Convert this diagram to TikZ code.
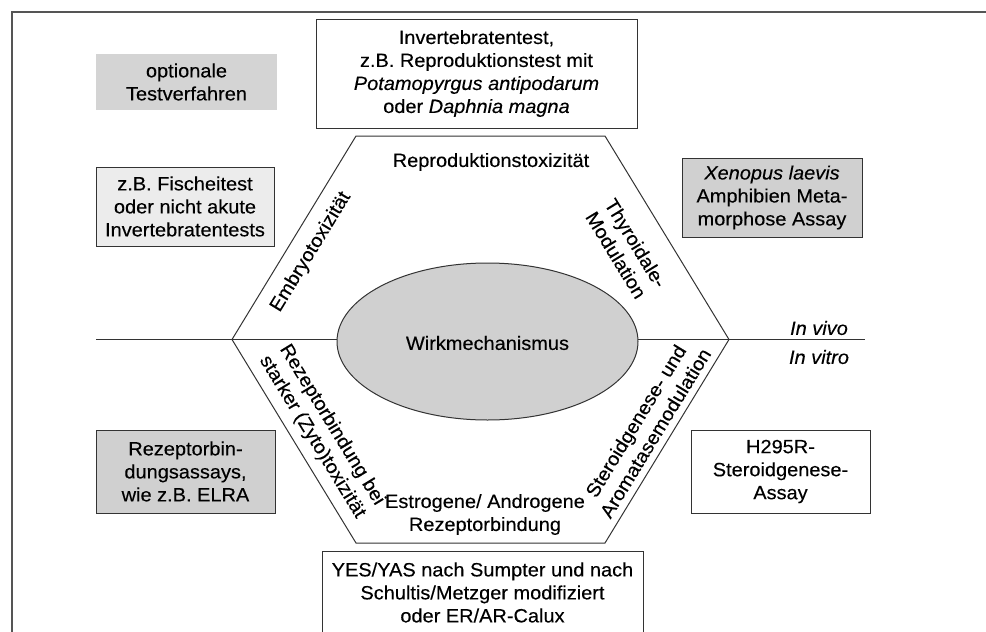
\documentclass[tikz,border=0pt]{standalone}
\usepackage{fontspec}
\setmainfont{Liberation Sans}[FakeStretch=1.04,FakeBold=0.25]
\usetikzlibrary{shapes.geometric}
\definecolor{linec}{HTML}{333333}
\definecolor{frame}{HTML}{555555}
\definecolor{fillA}{HTML}{D4D4D4}
\definecolor{fillB}{HTML}{ECECEC}
\definecolor{fillC}{HTML}{D0D0D0}
\definecolor{txtc}{HTML}{000000}
\tikzset{
  txt/.style={font=\fontsize{19.2}{23}\selectfont, align=center, text=txtc, inner sep=0pt},
  box/.style={draw=linec, line width=1pt, txt},
  hexline/.style={draw=linec, line width=1pt},
}
\begin{document}
\begin{tikzpicture}[x=1pt,y=-1pt]
\useasboundingbox (0,0) rectangle (986,632);
% frame
\coordinate (fbl) at (12,640);
\coordinate (ftl) at (12,12);
\coordinate (ftr) at (990,12);
\draw[frame, line width=1.5pt] (fbl) -- (ftl) -- (ftr);

% horizontal divider
\coordinate (hl) at (96,339.5);
\coordinate (hr) at (865,339.5);
\draw[hexline] (hl) -- (hr);

% hexagon
\coordinate (h1) at (356,136);
\coordinate (h2) at (605,136);
\coordinate (h3) at (729,339.5);
\coordinate (h4) at (605,543);
\coordinate (h5) at (356,543);
\coordinate (h6) at (232,339.5);
\draw[hexline, line join=miter] (h1) -- (h2) -- (h3) -- (h4) -- (h5) -- (h6) -- cycle;

% ellipse
\node[draw=linec, line width=1pt, fill=fillC, ellipse, minimum width=301pt, minimum height=157pt, inner sep=0pt] (wm) at (487.5,341.5) {};
\node[txt] (wmt) at (487.5,343) {Wirkmechanismus};

% boxes
\node[txt, fill=fillA, minimum width=181pt, minimum height=56pt] (opt) at (186.5,82) {optionale\\Testverfahren};
\node[box, fill=fillB, minimum width=178pt, minimum height=79pt] (fisch) at (185,206.5) {z.B. Fischeitest\\oder nicht akute\\Invertebratentests};
\node[box, fill=white, minimum width=321pt, minimum height=109pt] (inv) at (476.5,73.5) {Invertebratentest,\\z.B. Reproduktionstest mit\\\textit{Potamopyrgus antipodarum}\\oder \textit{Daphnia magna}};
\node[box, fill=fillC, minimum width=180pt, minimum height=79pt] (xen) at (772,197.5) {\textit{Xenopus laevis}\\Amphibien Meta-\\morphose Assay};
\node[box, fill=fillC, minimum width=179pt, minimum height=83pt] (rez) at (185.5,471.5) {Rezeptorbin-\\dungsassays,\\wie z.B. ELRA};
\node[box, fill=white, minimum width=179pt, minimum height=83pt] (h295) at (780.5,471.5) {H295R-\\Steroidgenese-\\Assay};
\node[box, fill=white, minimum width=321pt, minimum height=83pt] (yes) at (482.5,592.5) {YES/YAS nach Sumpter und nach\\Schultis/Metzger modifiziert\\oder ER/AR-Calux};

% in vivo / in vitro
\node[txt] (vivo) at (819,328) {\textit{In vivo}};
\node[txt] (vitro) at (819,357) {\textit{In vitro}};

% hexagon labels
\node[txt] (repro) at (491,162) {Reproduktionstoxizität};
\node[txt] (estro) at (485,514.5) {Estrogene/ Androgene\\Rezeptorbindung};
\node[txt, rotate=58.58] (embryo) at (311,252) {Embryotoxizität};
\node[txt, rotate=-58.58] (thyr) at (626,249) {Thyroidale-\\Modulation};
\node[txt, rotate=-58.58] (rezb) at (322,431) {Rezeptorbindung bei\\starker (Zyto)toxizität};
\node[txt, rotate=58.58] (stero) at (645.5,427) {Steroidgenese- und\\Aromatasemodulation};
\end{tikzpicture}
\end{document}
